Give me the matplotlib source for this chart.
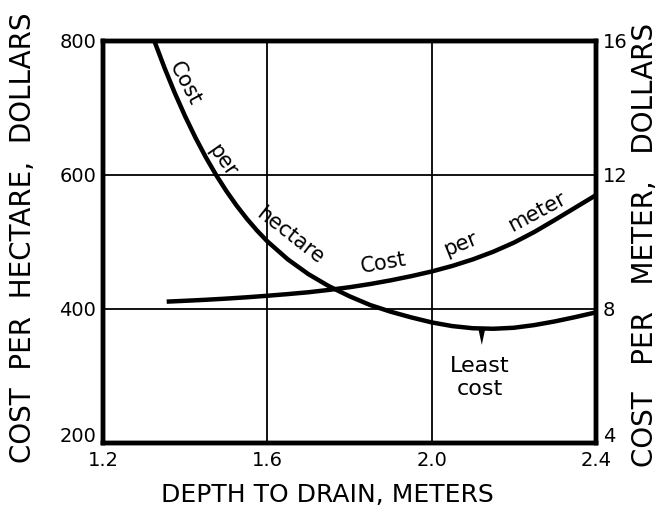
import matplotlib
matplotlib.use("Agg")
import matplotlib.pyplot as plt
from matplotlib.transforms import ScaledTranslation

# depth to drain (m) and cost per hectare (dollars, left axis)
hectare_depth = [1.325, 1.35, 1.375, 1.40, 1.425, 1.45, 1.475, 1.50, 1.525,
                 1.55, 1.575, 1.60, 1.65, 1.70, 1.75, 1.80, 1.85, 1.90,
                 1.95, 2.00, 2.05, 2.10, 2.15, 2.20, 2.25, 2.30, 2.35, 2.40]
hectare_cost = [800, 759.5, 722, 687.5, 655.8, 626.8, 600.3, 576.3, 554.5,
                534.8, 517, 501, 474, 452, 434, 419, 406, 396,
                387.5, 380, 374.5, 371.3, 370.5, 372, 376, 381.5, 388, 395]

# depth to drain (m) and cost per meter of drain (dollars, right axis)
meter_depth = [1.355, 1.40, 1.45, 1.50, 1.55, 1.60, 1.65, 1.70, 1.75, 1.80,
               1.85, 1.90, 1.95, 2.00, 2.05, 2.10, 2.15, 2.20, 2.25, 2.30,
               2.35, 2.40]
meter_cost = [8.22, 8.245, 8.275, 8.31, 8.35, 8.395, 8.445, 8.50, 8.57, 8.65,
              8.745, 8.855, 8.98, 9.12, 9.285, 9.48, 9.71, 9.98, 10.30, 10.66,
              11.03, 11.40]

# point of least cost per hectare
least_depth = 2.122
least_cost = 370.5

x_ticks = [1.2, 1.6, 2.0, 2.4]
x_labels = ["1.2", "1.6", "2.0", "2.4"]
left_ticks = [200, 400, 600, 800]
right_ticks = [4, 8, 12, 16]


def draw_axes(fig):
    # main axes, placed by hand so the frame sits where it should
    ax = fig.add_axes([103 / 666, 1 - 443 / 508, 493 / 666, 402 / 508])
    ax.set_xlim(1.2, 2.4)
    ax.set_ylim(200, 800)
    ax.set_xticks(x_ticks)
    ax.set_xticklabels(x_labels)
    ax.set_yticks(left_ticks)
    ax.grid(color="black", lw=1.3)
    ax.set_axisbelow(True)
    ax.tick_params(length=0, labelsize=14, pad=5)
    ax.tick_params(axis="x", pad=6)
    for s in ax.spines.values():
        s.set_linewidth(3.2)

    ax2 = ax.twinx()
    ax2.set_ylim(4, 16)
    ax2.set_yticks(right_ticks)
    ax2.tick_params(length=0, labelsize=14, pad=5)
    for s in ax2.spines.values():
        s.set_linewidth(3.2)

    # lift the bottom labels of both y axes clear of the x labels
    lift = ScaledTranslation(0, 6 / 72, fig.dpi_scale_trans)
    for a in (ax, ax2):
        lab = a.get_yticklabels()[0]
        lab.set_transform(lab.get_transform() + lift)
    return ax, ax2


def draw_curves(ax, ax2):
    ax.plot(hectare_depth, hectare_cost, color="black", lw=3.2,
            solid_capstyle="butt", solid_joinstyle="round")
    ax2.plot(meter_depth, meter_cost, color="black", lw=3.2,
             solid_capstyle="butt", solid_joinstyle="round")

    # little pointer hanging under the minimum
    ax.annotate("", xy=(least_depth, least_cost - 24), xytext=(least_depth, least_cost),
                arrowprops=dict(arrowstyle="wedge,tail_width=0.5", color="black",
                                lw=0, shrinkA=0, shrinkB=0))

    kw = dict(fontsize=15, ha="center", va="center", rotation_mode="anchor")
    ax.text(1.400, 737, "Cost", rotation=-62, **kw)
    ax.text(1.490, 622, "per", rotation=-55, **kw)
    ax.text(1.655, 510, "hectare", rotation=-38, **kw)
    ax.text(1.882, 469, "Cost", rotation=10, **kw)
    ax.text(2.069, 496, "per", rotation=22, **kw)
    ax.text(2.256, 545, "meter", rotation=28, **kw)
    ax.text(2.118, 298, "Least\ncost", fontsize=16, ha="center", va="center",
            linespacing=1.2)


def draw_labels(fig):
    fig.text(327 / 666, 1 - 495 / 508, "DEPTH TO DRAIN, METERS", fontsize=18,
             ha="center", va="center")
    fig.text(23 / 666, 1 - 238 / 508, "COST  PER  HECTARE,  DOLLARS", fontsize=20,
             rotation=90, ha="center", va="center")
    fig.text(645 / 666, 1 - 245 / 508, "COST   PER   METER,   DOLLARS", fontsize=20,
             rotation=90, ha="center", va="center")


def main():
    fig = plt.figure(figsize=(6.66, 5.08), dpi=100)
    ax, ax2 = draw_axes(fig)
    draw_curves(ax, ax2)
    draw_labels(fig)
    fig.savefig("out.png", dpi=100)


main()
